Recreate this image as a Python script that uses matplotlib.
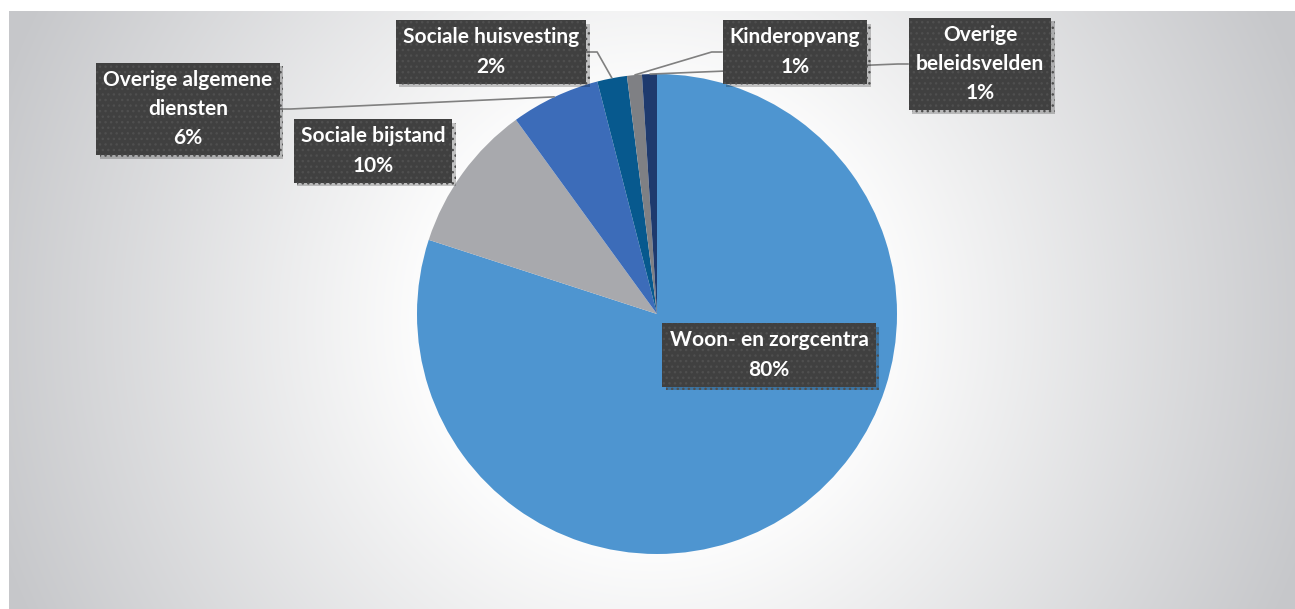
import numpy as np
import matplotlib
matplotlib.use("Agg")
import matplotlib.pyplot as plt
from matplotlib.patches import Circle
import matplotlib.patheffects as pe

# ---------------- data ----------------
categories = ["Woon- en zorgcentra", "Sociale bijstand", "Overige algemene diensten",
              "Sociale huisvesting", "Kinderopvang", "Overige beleidsvelden"]
values = [80, 10, 6, 2, 1, 1]
display_names = ["Woon- en zorgcentra", "Sociale bijstand", "Overige algemene\ndiensten",
                 "Sociale huisvesting", "Kinderopvang", "Overige\nbeleidsvelden"]
colors = ["#4E95D0", "#A8A9AD", "#3C6CB9", "#07598E", "#7F8084", "#1E3A6E"]

# label box centres (pixels from top-left) and whether a leader line is drawn
label_pos = [(769, 355), (373, 151), (188, 109), (491, 52), (795, 52), (980, 64)]
has_leader = [False, False, True, True, True, True]

W, H = 1295, 609
plt.rcParams['font.family'] = ['Lato', 'DejaVu Sans']
plt.rcParams['hatch.linewidth'] = 1.0

fig = plt.figure(figsize=(W / 100, H / 100), dpi=100, facecolor="white")
ax = fig.add_axes([0, 0, 1, 1])

# ---------------- background gradient ----------------
x0, x1, ytop, ybot = 9, W, 11, H
xs = np.arange(x0, x1) + 0.5
ys = np.arange(ytop, ybot) + 0.5
X, Y = np.meshgrid(xs, ys)
cx, cy = 652, 320
d = np.sqrt((X - cx) ** 2 + (Y - cy) ** 2) / 650.0
t = np.clip((d - 0.32) / 0.75, 0, 1)
white = np.array([1.0, 1.0, 1.0])
gray = np.array([198, 199, 202]) / 255.0
img = white[None, None, :] * (1 - t[..., None]) + gray[None, None, :] * t[..., None]
ax.imshow(img, extent=[x0, x1, H - ybot, H - ytop], origin="upper", zorder=0,
          interpolation="bilinear")

# ---------------- pie ----------------
pcx, pcy, R = 657, H - 314, 240
for i in range(1, 16):
    ax.add_patch(Circle((pcx, pcy), R + i * 2.2, facecolor="white", edgecolor="none",
                        alpha=0.09, zorder=1))

wedges, _ = ax.pie(values, colors=colors, startangle=90, counterclock=False,
                   center=(pcx, pcy), radius=R, wedgeprops=dict(linewidth=0, zorder=2))
for w in wedges:
    w.set_zorder(2)

ax.set_xlim(0, W)
ax.set_ylim(0, H)
ax.set_aspect("auto")
ax.axis("off")

# ---------------- labels ----------------
texts = []
for name, v, (px, py) in zip(display_names, values, label_pos):
    t_ = ax.text(px, H - py, f"{name}\n{v}%", ha="center", va="center", color="white",
                 fontsize=15, fontweight="bold", linespacing=1.58, zorder=5,
                 bbox=dict(boxstyle="square,pad=0.34", facecolor="#404040",
                           edgecolor="#4F4F4F", linewidth=0, hatch="..."))
    t_.get_bbox_patch().set_path_effects(
        [pe.SimplePatchShadow(offset=(2.5, -2.5), shadow_rgbFace="black", alpha=0.22),
         pe.Normal()])
    texts.append(t_)

fig.canvas.draw()
for w, t_, lead in zip(wedges, texts, has_leader):
    if not lead:
        continue
    th = np.deg2rad((w.theta1 + w.theta2) / 2)
    sx = w.center[0] + w.r * np.cos(th)
    sy = w.center[1] + w.r * np.sin(th)
    bb = t_.get_bbox_patch().get_window_extent()
    by = (bb.y0 + bb.y1) / 2
    if (bb.x0 + bb.x1) / 2 > sx:
        bx, ex = bb.x0, bb.x0 - 11
    else:
        bx, ex = bb.x1, bb.x1 + 11
    ax.plot([sx, ex, bx], [sy, by, by], color="#808080", linewidth=1.2, zorder=3,
            solid_capstyle="butt")

fig.savefig("out.png", dpi=100, facecolor="white")
